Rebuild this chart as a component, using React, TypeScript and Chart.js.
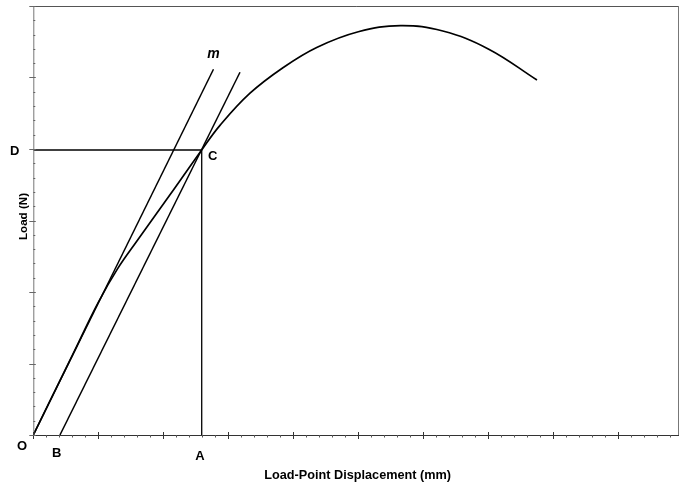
import React, { useEffect, useRef } from "react";
import { Chart, registerables } from "chart.js";

Chart.register(...registerables);

// Load–displacement curve (x in major divisions of displacement, y in major divisions of load)
const curveX = [0, 0.6, 1.0, 1.3, 1.6, 2.1, 2.591, 2.872, 3.334, 3.846, 4.36, 5.0, 5.65, 6.3, 7.0, 7.749];
const curveY = [0, 1.113, 1.855, 2.33, 2.72, 3.355, 3.986, 4.33, 4.78, 5.14, 5.42, 5.64, 5.725, 5.65, 5.4, 4.965];

// Initial tangent line "m" (through O)
const tangentX = [0, 2.772];
const tangentY = [0, 5.115];

// Offset line parallel to m (through B and C)
const offsetX = [0.41, 3.18];
const offsetY = [0, 5.073];

// Point C (intersection), projected to A (x-axis) and D (y-axis)
const pointC = { x: 2.591, y: 3.986 };

// Axis extents / tick steps
const xMax = 9.934;
const yMax = 6;
const majorStep = 1;
const minorStep = 0.2;

const xTitle = "Load-Point Displacement (mm)";
const yTitle = "Load (N)";

const FONT = '"Liberation Sans", Arial, sans-serif';

const toPts = (xs: number[], ys: number[]) => xs.map((x, i) => ({ x, y: ys[i] }));

const decorPlugin = {
  id: "decor",
  afterDraw(chart: any) {
    const { ctx, chartArea } = chart;
    const xs = chart.scales.x;
    const ys = chart.scales.y;
    const { left, right, top, bottom } = chartArea;
    ctx.save();

    // frame top and right
    ctx.lineWidth = 1;
    ctx.strokeStyle = "#555";
    ctx.beginPath();
    ctx.moveTo(left, top + 0.5);
    ctx.lineTo(right, top + 0.5);
    ctx.stroke();
    ctx.strokeStyle = "#777";
    ctx.beginPath();
    ctx.moveTo(right - 0.5, top);
    ctx.lineTo(right - 0.5, bottom);
    ctx.stroke();

    // axes
    ctx.strokeStyle = "#777";
    ctx.beginPath();
    ctx.moveTo(left + 0.5, top);
    ctx.lineTo(left + 0.5, bottom);
    ctx.stroke();
    ctx.strokeStyle = "#333";
    ctx.beginPath();
    ctx.moveTo(left, bottom + 0.5);
    ctx.lineTo(right, bottom + 0.5);
    ctx.stroke();

    // x ticks
    const nX = Math.floor(xMax / minorStep + 1e-6);
    for (let i = 0; i <= nX; i++) {
      const v = i * minorStep;
      const px = Math.round(xs.getPixelForValue(v)) + 0.5;
      const major = i % Math.round(majorStep / minorStep) === 0;
      ctx.strokeStyle = major ? "#333" : "#555";
      ctx.beginPath();
      ctx.moveTo(px, major ? bottom - 3 : bottom);
      ctx.lineTo(px, major ? bottom + 4 : bottom + 2.5);
      ctx.stroke();
    }
    // y ticks
    const nY = Math.floor(yMax / minorStep + 1e-6);
    for (let i = 0; i <= nY; i++) {
      const v = i * minorStep;
      const py = Math.round(ys.getPixelForValue(v)) + 0.5;
      const major = i % Math.round(majorStep / minorStep) === 0;
      ctx.strokeStyle = "#666";
      ctx.beginPath();
      ctx.moveTo(major ? left - 4 : left, py);
      ctx.lineTo(major ? left + 2.5 : left + 2, py);
      ctx.stroke();
    }

    // point labels
    ctx.fillStyle = "#000";
    ctx.textAlign = "center";
    ctx.textBaseline = "alphabetic";
    ctx.font = `bold 13px ${FONT}`;
    const ox = xs.getPixelForValue(0);
    const oy = ys.getPixelForValue(0);
    const cx = xs.getPixelForValue(pointC.x);
    const cy = ys.getPixelForValue(pointC.y);
    const bx = xs.getPixelForValue(offsetX[0]);
    ctx.fillText("O", ox - 11.3, oy + 15);
    ctx.fillText("B", bx - 3.3, oy + 21.5);
    ctx.fillText("A", cx - 1.7, oy + 24.5);
    ctx.fillText("D", ox - 18.5, cy + 4.5);
    ctx.fillText("C", cx + 11, cy + 10);
    ctx.font = `italic bold 14px ${FONT}`;
    const mx = xs.getPixelForValue(tangentX[1]);
    const my = ys.getPixelForValue(tangentY[1]);
    ctx.fillText("m", mx, my - 11);

    // axis titles
    ctx.font = `bold 12.7px ${FONT}`;
    ctx.fillText(xTitle, (left + right) / 2 + 1.5, bottom + 44);
    ctx.save();
    ctx.translate(left - 6.7, (top + bottom) / 2 - 4);
    ctx.rotate(-Math.PI / 2);
    ctx.font = `bold 11.6px ${FONT}`;
    ctx.fillText(yTitle, 0, 0);
    ctx.restore();

    ctx.restore();
  },
};

export default function App() {
  const ref = useRef<HTMLCanvasElement | null>(null);

  useEffect(() => {
    if (!ref.current) return;
    const chart = new Chart(ref.current, {
      type: "line",
      data: {
        datasets: [
          {
            data: toPts(curveX, curveY),
            borderColor: "#000",
            borderWidth: 1.7,
            pointRadius: 0,
            tension: 0.4,
            fill: false,
          },
          {
            data: toPts(tangentX, tangentY),
            borderColor: "#000",
            borderWidth: 1.5,
            pointRadius: 0,
            fill: false,
          },
          {
            data: toPts(offsetX, offsetY),
            borderColor: "#000",
            borderWidth: 1.5,
            pointRadius: 0,
            fill: false,
          },
          {
            data: [
              { x: pointC.x, y: 0 },
              { x: pointC.x, y: pointC.y },
            ],
            borderColor: "#000",
            borderWidth: 1.3,
            pointRadius: 0,
            fill: false,
          },
          {
            data: [
              { x: 0, y: pointC.y },
              { x: pointC.x, y: pointC.y },
            ],
            borderColor: "#000",
            borderWidth: 1.3,
            pointRadius: 0,
            fill: false,
          },
        ],
      },
      options: {
        animation: false,
        responsive: false,
        layout: { padding: { left: 33.3, top: 6, right: 8, bottom: 47 } },
        plugins: { legend: { display: false }, tooltip: { enabled: false } },
        scales: {
          x: { type: "linear", min: 0, max: xMax, display: false },
          y: { type: "linear", min: 0, max: yMax, display: false },
        },
      },
      plugins: [decorPlugin],
    });
    return () => chart.destroy();
  }, []);

  return (
    <div style={{ position: "absolute", left: 0, top: 0, width: 687, height: 482, background: "#fff" }}>
      <canvas ref={ref} width={687} height={482} style={{ display: "block" }} />
    </div>
  );
}
